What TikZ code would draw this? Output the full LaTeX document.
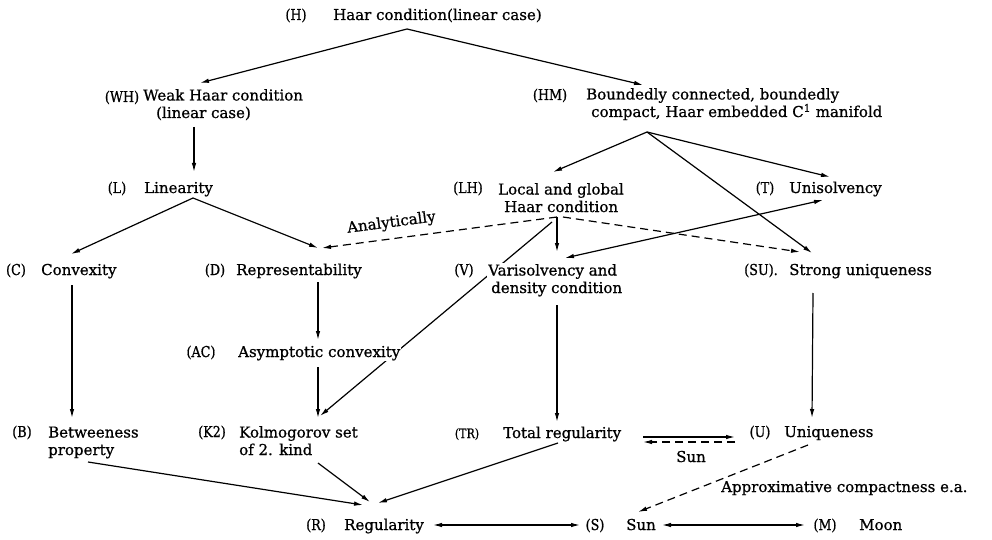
\documentclass[tikz,border=0pt]{standalone}
\usepackage{fontspec}
\setmainfont[FakeBold=0.8]{DejaVu Serif}
\newfontfamily\tagfont[FakeStretch=0.85,FakeBold=0.8]{DejaVu Serif}
\usetikzlibrary{arrows.meta,backgrounds}
\begin{document}
\begin{tikzpicture}[x=1pt,y=-1pt,
  lbl/.style={anchor=base west,inner sep=1pt,font=\fontsize{15}{17.5}\selectfont,align=left},
  tg/.style={anchor=base,inner sep=1pt,font=\fontsize{15}{17.5}\tagfont},
  blank/.style={fill=white},
  arr/.style={-{Latex[length=9pt,width=4.5pt]},line width=1.2pt},
  dbl/.style={{Latex[length=9pt,width=4.5pt]}-{Latex[length=9pt,width=4.5pt]},line width=1.2pt},
  dsh/.style={dash pattern=on 8pt off 5pt}]
\useasboundingbox (0,0) rectangle (992,540);
% labels (multi-line nodes are placed by the baseline of their last line)
\node[tg] (Ht) at (296,20) {(H)};
\node[lbl] (H) at (332,20) {Haar condition(linear case)};
\node[tg] (WHt) at (122,102) {(WH)};
\node[lbl] (WH) at (142,118) {Weak Haar condition\\\hspace*{13pt}(linear case)};
\node[tg] (HMt) at (550,100) {(HM)};
\node[lbl] (HM) at (585,117) {Boundedly connected, boundedly\\\hspace*{5pt}compact, Haar embedded C\textsuperscript{1} manifold};
\node[tg] (Lt) at (117,193) {(L)};
\node[lbl] (L) at (143,193) {Linearity};
\node[tg] (LHt) at (468,193) {(LH)};
\node[lbl] (LH) at (497,212) {Local and global\\\hspace*{6pt}Haar condition};
\node[tg] (Tt) at (765,193) {(T)};
\node[lbl] (T) at (788,193) {Unisolvency};
\node[tg] (Ct) at (16,275) {(C)};
\node[lbl] (C) at (40,275) {Convexity};
\node[tg] (Dt) at (215,275) {(D)};
\node[lbl] (D) at (235,275) {Representability};
\node[tg] (Vt) at (464,275) {(V)};
\node[lbl,blank] (V) at (487,293) {Varisolvency and\\\hspace*{3pt}density condition};
\node[tg] (SUt) at (761,275) {(SU).};
\node[lbl] (SU) at (788,275) {Strong uniqueness};
\node[tg] (ACt) at (201,357) {(AC)};
\node[lbl,blank] (AC) at (237,357) {Asymptotic convexity};
\node[tg] (Bt) at (22,437) {(B)};
\node[lbl] (B) at (47,455) {Betweeness\\property};
\node[tg] (K2t) at (212,437) {(K2)};
\node[lbl] (K2) at (238,455) {Kolmogorov set\\of 2. kind};
\node[tg,font=\fontsize{13}{15}\tagfont] (TRt) at (467,438) {(TR)};
\node[lbl] (TR) at (502,438) {Total regularity};
\node[tg] (Ut) at (760,437) {(U)};
\node[lbl] (U) at (783,437) {Uniqueness};
\node[tg] (Rt) at (316,530) {(R)};
\node[lbl] (R) at (343,530) {Regularity};
\node[tg] (St) at (595,530) {(S)};
\node[lbl] (S) at (625,530) {Sun};
\node[tg] (Mt) at (825,530) {(M)};
\node[lbl] (M) at (858,530) {Moon};
\node[lbl] (ac) at (720,492) {Approximative compactness e.a.};
\node[lbl,anchor=base] (sunl) at (691,462) {Sun};
\node[lbl,anchor=base,rotate=7.5] (anl) at (392,227) {Analytically};
% connector ends
\coordinate (H-s) at (407,29);
\coordinate (WH-n) at (200,83);
\coordinate (HM-n) at (643,85);
\coordinate (WH-s) at (194,127);
\coordinate (L-n) at (194,172);
\coordinate (L-s) at (193,198);
\coordinate (C-n) at (71,254);
\coordinate (D-n) at (318,248);
\coordinate (D-ne) at (322,248);
\coordinate (LH-s) at (557,217);
\coordinate (LH-sw) at (552,222);
\coordinate (LH-se) at (563,217);
\coordinate (HM-s) at (647,132);
\coordinate (LH-n) at (553,172);
\coordinate (T-n) at (830,177);
\coordinate (SU-n) at (812,253);
\coordinate (SU-nw) at (800,252);
\coordinate (V-n) at (557,252);
\coordinate (V-ne) at (565,258);
\coordinate (T-sw) at (823,200);
\coordinate (K2-n) at (320,416);
\coordinate (K2-nn) at (318,418);
\coordinate (C-s) at (72,285);
\coordinate (B-n) at (72,418);
\coordinate (D-s) at (318,282);
\coordinate (AC-n) at (318,340);
\coordinate (AC-s) at (318,367);
\coordinate (V-s) at (557,305);
\coordinate (TR-n) at (557,422);
\coordinate (SU-s) at (813,293);
\coordinate (U-n) at (812,418);
\coordinate (TR-e1) at (643,437);
\coordinate (U-w1) at (735,437);
\coordinate (TR-e2) at (643,442);
\coordinate (U-w2) at (735,442);
\coordinate (U-s) at (808,445);
\coordinate (S-n) at (638,512);
\coordinate (B-s) at (88,462);
\coordinate (R-n1) at (363,505);
\coordinate (K2-s) at (318,463);
\coordinate (R-n2) at (370,502);
\coordinate (TR-s) at (558,443);
\coordinate (R-n3) at (378,503);
\coordinate (R-e) at (433,525);
\coordinate (S-w) at (580,525);
\coordinate (S-e) at (662,525);
\coordinate (M-w) at (805,525);
\begin{scope}[on background layer]
\draw[arr] (H-s) -- (WH-n);
\draw[arr] (H-s) -- (HM-n);
\draw[arr] (WH-s) -- (L-n);
\draw[arr] (L-s) -- (C-n);
\draw[arr] (L-s) -- (D-n);
\draw[arr,dsh] (LH-s) -- (D-ne);
\draw[arr] (HM-s) -- (LH-n);
\draw[arr] (HM-s) -- (T-n);
\draw[arr] (HM-s) -- (SU-n);
\draw[arr] (LH-s) -- (V-n);
\draw[arr] (LH-sw) -- (K2-n);
\draw[arr,dsh] (LH-se) -- (SU-nw);
\draw[dbl] (V-ne) -- (T-sw);
\draw[arr] (C-s) -- (B-n);
\draw[arr] (D-s) -- (AC-n);
\draw[arr] (AC-s) -- (K2-nn);
\draw[arr] (V-s) -- (TR-n);
\draw[arr] (SU-s) -- (U-n);
\draw[arr] (TR-e1) -- (U-w1);
\draw[arr,dsh] (U-w2) -- (TR-e2);
\draw[arr,dsh] (U-s) -- (S-n);
\draw[arr] (B-s) -- (R-n1);
\draw[arr] (K2-s) -- (R-n2);
\draw[arr] (TR-s) -- (R-n3);
\draw[dbl] (R-e) -- (S-w);
\draw[dbl] (S-e) -- (M-w);
\end{scope}
\end{tikzpicture}
\end{document}
